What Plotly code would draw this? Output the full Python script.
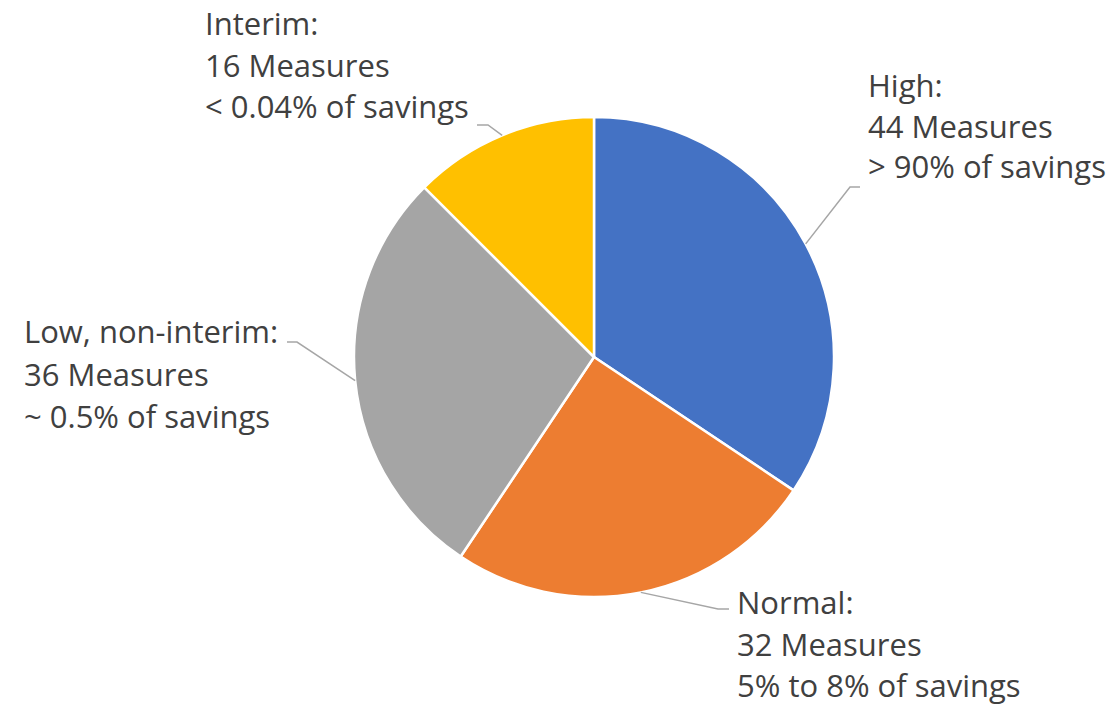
import math
import plotly.graph_objects as go

# ---- data ----
categories = ["High", "Normal", "Low, non-interim", "Interim"]
measures = [44, 32, 36, 16]
savings = ["> 90% of savings", "5% to 8% of savings", "~ 0.5% of savings", "< 0.04% of savings"]
colors = ["#4472C4", "#ED7D31", "#A5A5A5", "#FFC000"]

# ---- layout constants (pixels, in screenshot coordinates) ----
W, H = 1114, 707
CX, CY, R = 594, 357, 240
FONT = "Open Sans"
FS = 31
TXT = "#404040"
LINE = "#A6A6A6"

# label placement per category: text left x, three line centers, elbow point, horizontal end
label_pos = {
    "High": dict(x=866, ys=[85, 126, 166], elbow=(850, 187), end=(860, 187)),
    "Normal": dict(x=735, ys=[602, 644, 685], elbow=(718, 609), end=(729, 609)),
    "Low, non-interim": dict(x=22, ys=[331, 374, 416], elbow=(297, 342), end=(287, 342)),
    "Interim": dict(x=203, ys=[23, 65, 106], elbow=(488, 125), end=(477, 125)),
}


def px(x):
    return x / W


def py(y):
    return 1 - y / H


fig = go.Figure(go.Pie(
    labels=categories,
    values=measures,
    sort=False,
    direction="clockwise",
    rotation=0,
    marker=dict(colors=colors, line=dict(color="white", width=2.5)),
    textinfo="none",
    hoverinfo="label+value",
    showlegend=False,
    domain=dict(x=[px(CX - R), px(CX + R)], y=[py(CY + R), py(CY - R)]),
))

annotations = []
shapes = []
total = sum(measures)
cum = 0
for cat, m, s in zip(categories, measures, savings):
    mid = (cum + m / 2) / total * 2 * math.pi
    cum += m
    ex = CX + R * math.sin(mid)
    ey = CY - R * math.cos(mid)
    lp = label_pos[cat]
    lines = [cat + ":", f"{m} Measures", s]
    for t, yy in zip(lines, lp["ys"]):
        annotations.append(dict(
            text=t, x=px(lp["x"]), y=py(yy), xref="paper", yref="paper",
            xanchor="left", yanchor="middle", showarrow=False,
            font=dict(family=FONT, size=FS, color=TXT),
        ))
    (bx, by), (hx, hy) = lp["elbow"], lp["end"]
    shapes.append(dict(
        type="path", xref="paper", yref="paper",
        path=f"M {px(ex)} {py(ey)} L {px(bx)} {py(by)} L {px(hx)} {py(hy)}",
        line=dict(color=LINE, width=1.5),
    ))

fig.update_layout(
    width=W, height=H,
    margin=dict(l=0, r=0, t=0, b=0),
    paper_bgcolor="white", plot_bgcolor="white",
    annotations=annotations, shapes=shapes,
)

fig.write_html(
    "out.html",
    config={"displayModeBar": False},
    post_script="document.body.style.margin='0';document.documentElement.style.overflow='hidden';",
)
